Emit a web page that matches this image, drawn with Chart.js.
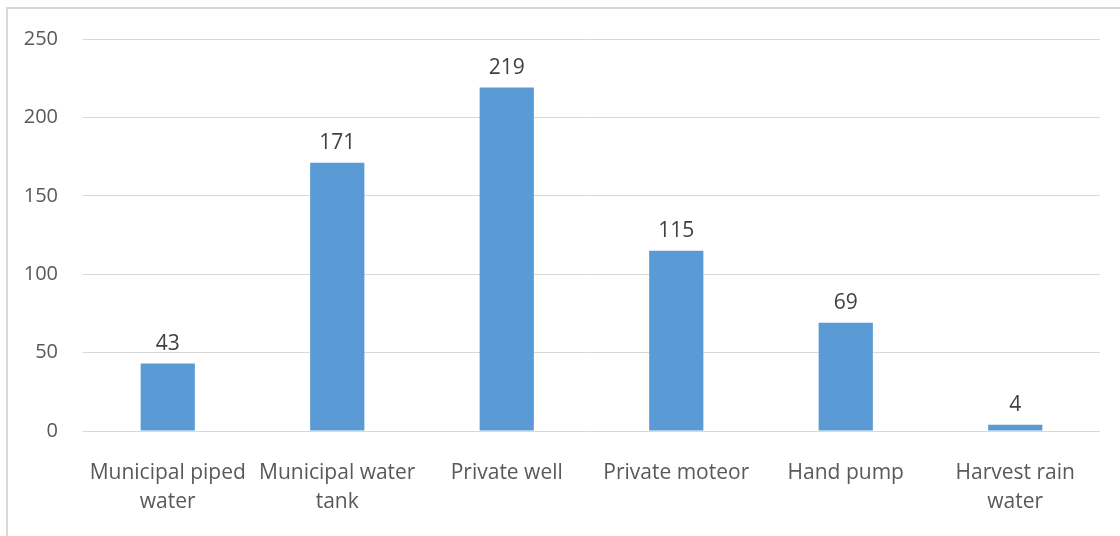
<!DOCTYPE html>
<html>
<head>
<meta charset="utf-8">
<script src="https://cdn.jsdelivr.net/npm/chart.js@4"></script>
<style>
  html, body { margin: 0; padding: 0; background: #fff; }
  #wrap { position: relative; width: 1120px; height: 536px; overflow: hidden; }
  #frame { position: absolute; left: 6px; top: 7px; width: 1130px; height: 540px; border: 2px solid #d9d9d9; box-sizing: border-box; }
  canvas { position: absolute; left: 0; top: 0; }
</style>
</head>
<body>
<div id="wrap">
  <div id="frame"></div>
  <canvas id="chart" width="1120" height="536"></canvas>
</div>
<script>
const categories = [
  ["Municipal piped", "water"],
  ["Municipal water", "tank"],
  "Private well",
  "Private moteor",
  "Hand pump",
  ["Harvest rain", "water"]
]
const counts = [43, 171, 219, 115, 69, 4]
const yTicks = [0, 50, 100, 150, 200, 250]

const FONT = "'Open Sans', sans-serif"

// value labels above each bar
const barLabels = {
  id: "barLabels",
  afterDatasetsDraw(chart) {
    const ctx = chart.ctx
    const meta = chart.getDatasetMeta(0)
    ctx.save()
    ctx.font = "21px " + FONT
    ctx.fillStyle = "#404040"
    ctx.textAlign = "center"
    ctx.textBaseline = "middle"
    meta.data.forEach((bar, i) => {
      ctx.fillText(String(counts[i]), bar.x, bar.y - 20)
    })
    ctx.restore()
  }
}

new Chart(document.getElementById("chart"), {
  type: "bar",
  data: {
    labels: categories,
    datasets: [{
      data: counts,
      backgroundColor: "#5b9bd5",
      borderWidth: 0,
      categoryPercentage: 1,
      barPercentage: 0.32
    }]
  },
  options: {
    responsive: false,
    animation: false,
    layout: { padding: { left: 0, right: 20, top: 39, bottom: 0 } },
    plugins: {
      legend: { display: false },
      tooltip: { enabled: false }
    },
    scales: {
      x: {
        grid: { display: false, drawTicks: false },
        border: { display: false },
        ticks: {
          color: "#595959",
          font: { family: FONT, size: 21, lineHeight: 1.4 },
          padding: 27,
          maxRotation: 0,
          autoSkip: false
        },
        afterFit(scale) { scale.height = 105 }
      },
      y: {
        min: 0,
        max: 250,
        afterBuildTicks(scale) { scale.ticks = yTicks.map(v => ({ value: v })) },
        grid: { color: "#d9d9d9", lineWidth: 1, drawTicks: false },
        border: { display: false },
        ticks: {
          color: "#595959",
          font: { family: FONT, size: 20 },
          padding: 25
        },
        afterFit(scale) { scale.width = 83 }
      }
    }
  },
  plugins: [barLabels]
})
</script>
</body>
</html>
